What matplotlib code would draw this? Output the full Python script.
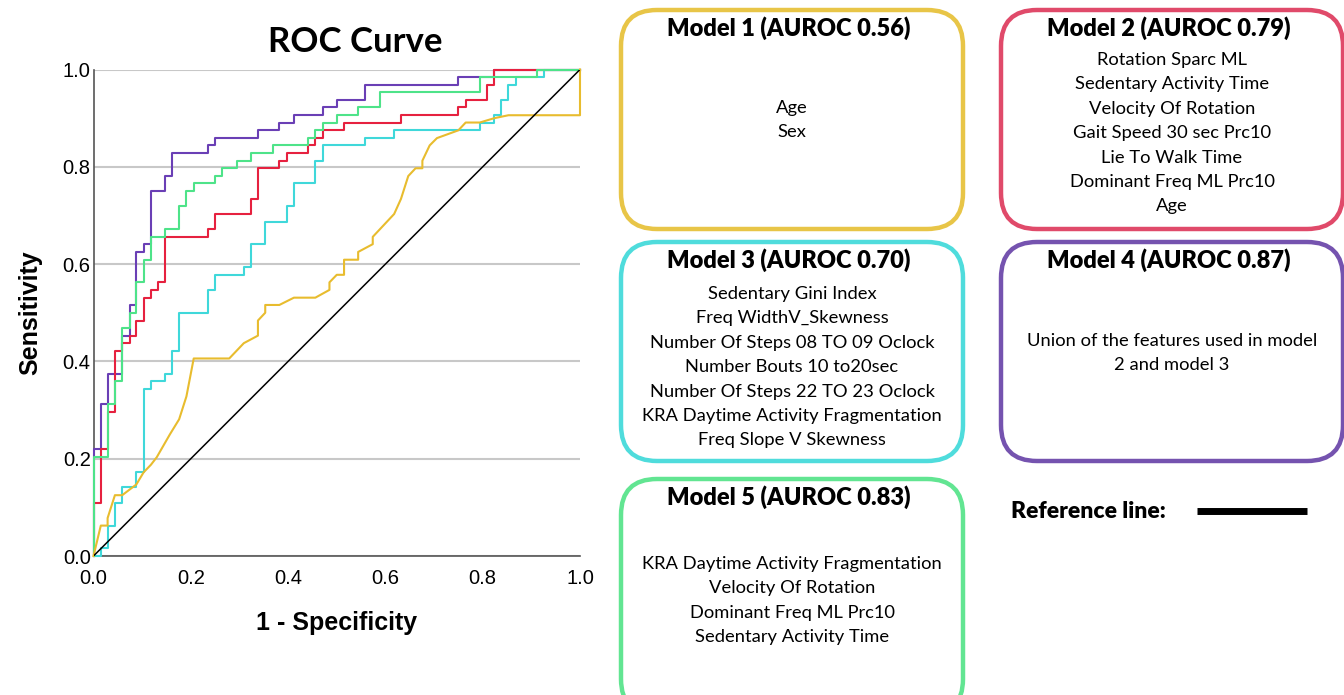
import matplotlib
matplotlib.use("Agg")
import matplotlib.pyplot as plt
from matplotlib.patches import FancyBboxPatch

# ROC curves (corner points of each curve)
fpr_m1 = [0, 0.015, 0.029, 0.029, 0.044, 0.059, 0.088, 0.103, 0.118, 0.130, 0.157, 0.176, 0.191,
          0.206, 0.279, 0.309, 0.338, 0.338, 0.353, 0.353, 0.382, 0.412, 0.456, 0.485, 0.485,
          0.500, 0.515, 0.515, 0.544, 0.544, 0.574, 0.574, 0.618, 0.632, 0.647, 0.662, 0.676,
          0.676, 0.691, 0.706, 0.750, 0.765, 0.794, 0.824, 0.853, 1.0, 1.0]
tpr_m1 = [0, 0.0625, 0.0625, 0.078, 0.125, 0.125, 0.147, 0.172, 0.1875, 0.203, 0.250, 0.281, 0.328,
          0.406, 0.406, 0.4375, 0.453, 0.484, 0.500, 0.516, 0.516, 0.531, 0.531, 0.547, 0.5625,
          0.578, 0.578, 0.609, 0.609, 0.625, 0.641, 0.656, 0.703, 0.734, 0.781, 0.797, 0.797,
          0.8125, 0.844, 0.859, 0.875, 0.891, 0.891, 0.900, 0.906, 0.906, 1.0]

fpr_m2 = [0, 0, 0.015, 0.015, 0.029, 0.029, 0.044, 0.044, 0.059, 0.059, 0.074, 0.074, 0.088, 0.088,
          0.103, 0.103, 0.118, 0.118, 0.132, 0.132, 0.147, 0.147, 0.235, 0.235, 0.250, 0.250,
          0.324, 0.324, 0.338, 0.338, 0.382, 0.382, 0.397, 0.397, 0.441, 0.441, 0.456, 0.456,
          0.471, 0.471, 0.515, 0.515, 0.632, 0.632, 0.750, 0.750, 0.765, 0.765, 0.809, 0.809,
          0.824, 0.824, 1.0]
tpr_m2 = [0, 0.109, 0.109, 0.219, 0.219, 0.297, 0.297, 0.422, 0.422, 0.4375, 0.4375, 0.453, 0.453,
          0.484, 0.484, 0.531, 0.531, 0.547, 0.547, 0.5625, 0.5625, 0.656, 0.656, 0.672, 0.672,
          0.703, 0.703, 0.734, 0.734, 0.797, 0.797, 0.8125, 0.8125, 0.828, 0.828, 0.844, 0.844,
          0.859, 0.859, 0.875, 0.875, 0.891, 0.891, 0.906, 0.906, 0.922, 0.922, 0.9375, 0.9375,
          0.969, 0.969, 1.0, 1.0]

fpr_m3 = [0, 0.015, 0.015, 0.029, 0.029, 0.044, 0.044, 0.059, 0.059, 0.088, 0.088, 0.103, 0.103,
          0.118, 0.118, 0.147, 0.147, 0.162, 0.162, 0.176, 0.176, 0.235, 0.235, 0.250, 0.250,
          0.309, 0.309, 0.324, 0.324, 0.353, 0.353, 0.397, 0.397, 0.412, 0.412, 0.456, 0.456,
          0.471, 0.471, 0.559, 0.559, 0.618, 0.618, 0.794, 0.794, 0.824, 0.824, 0.838, 0.838,
          0.853, 0.853, 0.868, 0.868, 0.926, 0.926, 1.0]
tpr_m3 = [0, 0, 0.0156, 0.0156, 0.0625, 0.0625, 0.109, 0.109, 0.141, 0.141, 0.172, 0.172, 0.344,
          0.344, 0.359, 0.359, 0.375, 0.375, 0.422, 0.422, 0.500, 0.500, 0.547, 0.547, 0.578,
          0.578, 0.594, 0.594, 0.641, 0.641, 0.6875, 0.6875, 0.719, 0.719, 0.766, 0.766, 0.8125,
          0.8125, 0.844, 0.844, 0.859, 0.859, 0.875, 0.875, 0.891, 0.891, 0.906, 0.906, 0.9375,
          0.9375, 0.969, 0.969, 0.984, 0.984, 1.0, 1.0]

fpr_m4 = [0, 0, 0.015, 0.015, 0.029, 0.029, 0.059, 0.059, 0.074, 0.074, 0.088, 0.088, 0.103, 0.103,
          0.118, 0.118, 0.147, 0.147, 0.162, 0.162, 0.235, 0.235, 0.250, 0.250, 0.338, 0.338,
          0.382, 0.382, 0.412, 0.412, 0.471, 0.471, 0.500, 0.500, 0.559, 0.559, 0.750, 0.750,
          0.824, 0.824, 1.0]
tpr_m4 = [0, 0.219, 0.219, 0.3125, 0.3125, 0.375, 0.375, 0.453, 0.453, 0.516, 0.516, 0.625, 0.625,
          0.641, 0.641, 0.750, 0.750, 0.781, 0.781, 0.828, 0.828, 0.844, 0.844, 0.859, 0.859,
          0.875, 0.875, 0.891, 0.891, 0.906, 0.906, 0.922, 0.922, 0.9375, 0.9375, 0.969, 0.969,
          0.984, 0.984, 1.0, 1.0]

fpr_m5 = [0, 0, 0.029, 0.029, 0.044, 0.044, 0.059, 0.059, 0.074, 0.074, 0.088, 0.088, 0.103, 0.103,
          0.118, 0.118, 0.147, 0.147, 0.176, 0.176, 0.191, 0.191, 0.206, 0.206, 0.250, 0.250,
          0.265, 0.265, 0.294, 0.294, 0.324, 0.324, 0.368, 0.368, 0.441, 0.441, 0.456, 0.456,
          0.471, 0.471, 0.500, 0.500, 0.544, 0.544, 0.588, 0.588, 0.794, 0.794, 0.912, 0.912, 1.0]
tpr_m5 = [0, 0.203, 0.203, 0.3125, 0.3125, 0.359, 0.359, 0.469, 0.469, 0.500, 0.500, 0.5625, 0.5625,
          0.609, 0.609, 0.656, 0.656, 0.672, 0.672, 0.719, 0.719, 0.750, 0.750, 0.766, 0.766,
          0.781, 0.781, 0.797, 0.797, 0.8125, 0.8125, 0.828, 0.828, 0.844, 0.844, 0.859, 0.859,
          0.875, 0.875, 0.891, 0.891, 0.906, 0.906, 0.922, 0.922, 0.953, 0.953, 0.984, 0.984, 1.0, 1.0]

model_names = ["Model 1", "Model 2", "Model 3", "Model 4", "Model 5"]
auroc = [0.56, 0.79, 0.70, 0.87, 0.83]
features = [
    ["Age", "Sex"],
    ["Rotation Sparc ML", "Sedentary Activity Time", "Velocity Of Rotation",
     "Gait Speed 30 sec Prc10", "Lie To Walk Time", "Dominant Freq ML Prc10", "Age"],
    ["Sedentary Gini Index", "Freq WidthV_Skewness", "Number Of Steps 08 TO 09 Oclock",
     "Number Bouts 10 to20sec", "Number Of Steps 22 TO 23 Oclock",
     "KRA Daytime Activity Fragmentation", "Freq Slope V Skewness"],
    ["Union of the features used in model", "2 and model 3"],
    ["KRA Daytime Activity Fragmentation", "Velocity Of Rotation",
     "Dominant Freq ML Prc10", "Sedentary Activity Time"],
]

curve_colors = ["#E8BC2E", "#E6213F", "#3FD8DA", "#6A3FB5", "#4EE389"]
box_colors = ["#E8C547", "#E04A6A", "#4FDCDC", "#7553AF", "#62E592"]

W, H = 1344, 695
fig = plt.figure(figsize=(W / 100, H / 100), dpi=100)

# ROC panel
ax = fig.add_axes([93.5 / W, (H - 556) / H, 486.5 / W, 486.5 / H])
curves = [(fpr_m1, tpr_m1), (fpr_m2, tpr_m2), (fpr_m3, tpr_m3), (fpr_m4, tpr_m4), (fpr_m5, tpr_m5)]
order = [3, 1, 2, 4, 0]
for i in order:
    f, t = curves[i]
    ax.plot(f, t, color=curve_colors[i], lw=1.5, clip_on=False, zorder=3)
ax.plot([0, 1], [0, 1], color="black", lw=1.1, zorder=4)

ax.set_xlim(0, 1)
ax.set_ylim(0, 1)
ticks = [0, 0.2, 0.4, 0.6, 0.8, 1.0]
tick_labels = ["0.0", "0.2", "0.4", "0.6", "0.8", "1.0"]
ax.set_xticks(ticks)
ax.set_yticks(ticks)
ax.set_xticklabels(tick_labels)
ax.set_yticklabels(tick_labels)
ax.tick_params(length=0, labelsize=14.5, pad=2)
ax.tick_params(axis="x", pad=9)
for lab in ax.get_xticklabels() + ax.get_yticklabels():
    lab.set_fontfamily("Liberation Sans")
ax.yaxis.grid(True, color="#C8C8C8", lw=1.5)
ax.set_axisbelow(True)
for s in ["top", "right"]:
    ax.spines[s].set_visible(False)
for s in ["left", "bottom"]:
    ax.spines[s].set_color("#555555")
    ax.spines[s].set_linewidth(1.2)
ax.set_xlabel("1 - Specificity", fontsize=18, fontweight="bold", family="Liberation Sans", labelpad=17)
ax.set_ylabel("Sensitivity", fontsize=18, fontweight="bold", family="Liberation Sans", labelpad=15)
fig.text(355 / W, 1 - 42 / H, "ROC Curve", ha="center", va="center",
         fontsize=25, fontweight="bold", family="Lato")

# model description boxes, in pixel coordinates
lay = fig.add_axes([0, 0, 1, 1])
lay.set_xlim(0, W)
lay.set_ylim(H, 0)
lay.axis("off")
lay.patch.set_alpha(0)

box_pos = [(619, 8), (999, 8), (619, 240), (999, 240), (619, 477)]
box_w, box_h = 346, 223
line_gap = 24.4
body_top = [108, 60, 294, 341, 564]
for i, (bx, by) in enumerate(box_pos):
    h = box_h if i < 4 else 240
    lay.add_patch(FancyBboxPatch((bx + 2, by + 2), box_w - 4, h - 4,
                                 boxstyle="round,pad=0,rounding_size=36",
                                 fc="white", ec=box_colors[i], lw=3.2, clip_on=False))
    cx = bx + box_w / 2
    lay.text(cx - 3, by + 20, f"{model_names[i]} (AUROC {auroc[i]:.2f})",
             ha="center", va="center", fontsize=17, fontweight="heavy", family="Lato")
    for j, line in enumerate(features[i]):
        lay.text(cx, body_top[i] + j * line_gap, line, ha="center", va="center",
                 fontsize=13.2, family="Lato")

lay.text(1011, 511, "Reference line:", ha="left", va="center", fontsize=16.5,
         fontweight="heavy", family="Lato")
lay.plot([1197, 1307], [511, 511], color="black", lw=5, solid_capstyle="butt")

fig.savefig("out.png", dpi=100)
